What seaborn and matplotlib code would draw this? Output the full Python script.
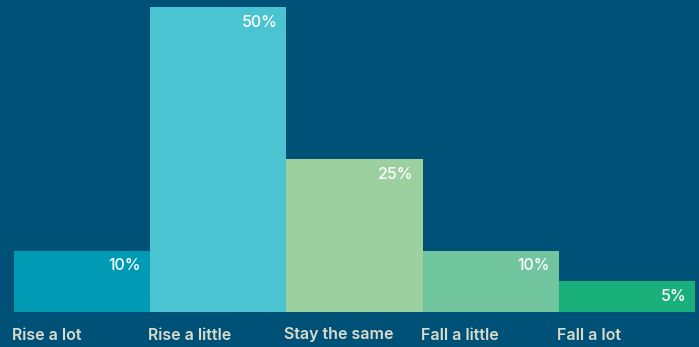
import matplotlib
matplotlib.use("Agg")
import matplotlib.pyplot as plt
import matplotlib.transforms as mtransforms
import seaborn as sns
import pandas as pd

categories = ["Rise a lot", "Rise a little", "Stay the same", "Fall a little", "Fall a lot"]
values = [10, 50, 25, 10, 5]
value_labels = ["10%", "50%", "25%", "10%", "5%"]
colors = ["#009ab5", "#4bc4d2", "#9dd09f", "#72c69f", "#19b07c"]

BG = "#005177"
sns.set_theme(style="white")
plt.rcParams["font.family"] = ["Inter", "DejaVu Sans"]

W, H, DPI = 699, 347, 100
fig = plt.figure(figsize=(W / DPI, H / DPI), dpi=DPI, facecolor=BG)
left, right = 14, 695
base, top = 311.6, 7.3
ax = fig.add_axes([left / W, (H - base) / H, (right - left) / W, (base - top) / H])
ax.set_facecolor(BG)

df = pd.DataFrame({"cat": categories, "val": values})
sns.barplot(data=df, x="cat", y="val", hue="cat", palette=colors, width=1.0,
            legend=False, ax=ax, saturation=1, linewidth=0)

ax.set_xlim(-0.5, len(categories) - 0.5)
ax.set_ylim(0, 50)
ax.axis("off")

for i, (v, lab) in enumerate(zip(values, value_labels)):
    ax.annotate(lab, xy=(i + 0.5, v), xytext=(-9, -15), textcoords="offset pixels",
                ha="right", va="center", color="white", fontsize=11.5,
                fontweight="medium")

trans = mtransforms.blended_transform_factory(ax.transData, fig.transFigure)
for i, c in enumerate(categories):
    ax.annotate(c, xy=(i - 0.5, (H - 335) / H), xycoords=trans, xytext=(-2, 0),
                textcoords="offset pixels", ha="left", va="center",
                color="#d9dccb", fontsize=11.5, fontweight="semibold",
                annotation_clip=False)

fig.savefig("out.png", dpi=DPI, facecolor=BG)
